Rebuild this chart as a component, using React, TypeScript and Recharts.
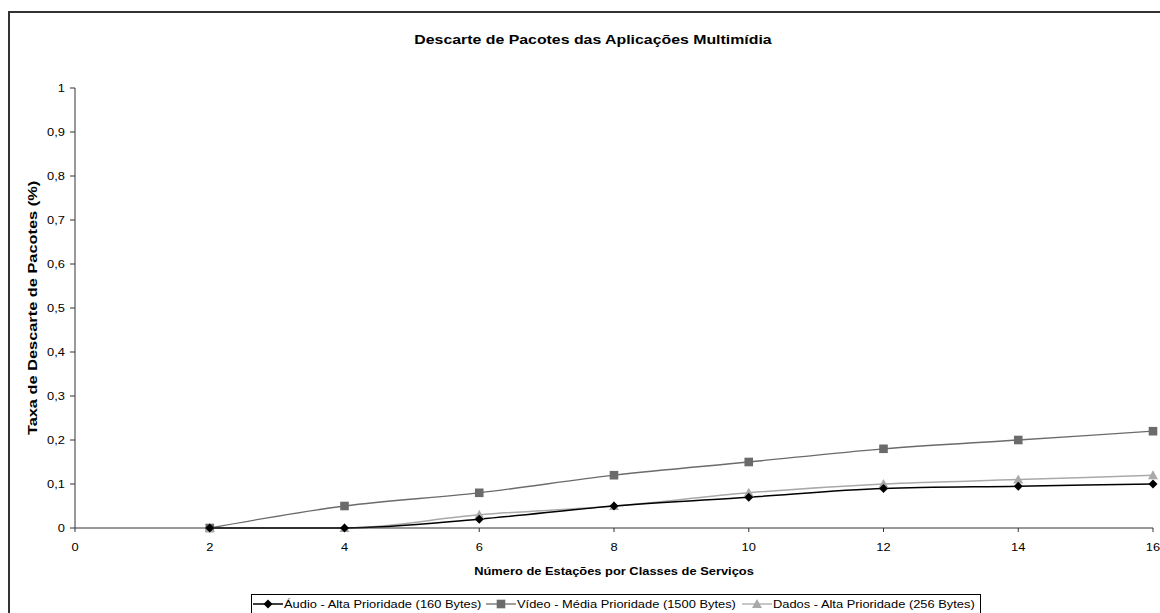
import { LineChart, Line, XAxis, YAxis, Legend } from "recharts";

const stations = [2, 4, 6, 8, 10, 12, 14, 16];
const audio = [0, 0, 0.02, 0.05, 0.07, 0.09, 0.095, 0.1];
const video = [0, 0.05, 0.08, 0.12, 0.15, 0.18, 0.2, 0.22];
const dados = [0, 0, 0.03, 0.05, 0.08, 0.1, 0.11, 0.12];

const xTicks = [0, 2, 4, 6, 8, 10, 12, 14, 16];
const yTicks = [0, 0.1, 0.2, 0.3, 0.4, 0.5, 0.6, 0.7, 0.8, 0.9, 1];

const seriesNames = [
  "Áudio - Alta Prioridade (160 Bytes)",
  "Vídeo - Média Prioridade (1500 Bytes)",
  "Dados - Alta Prioridade (256 Bytes)",
];

const data = stations.map((x, i) => ({
  x,
  audio: audio[i],
  video: video[i],
  dados: dados[i],
}));

const FONT = "'Liberation Sans', Arial, sans-serif";
const SX = 1.17; // the original text is drawn a little wide
const AUDIO_COLOR = "#000000";
const VIDEO_COLOR = "#6b6b6b";
const DADOS_COLOR = "#a9a9a9";

function Diamond({ cx, cy, color }: { cx: number; cy: number; color: string }) {
  const r = 4.5;
  return (
    <path
      d={`M${cx},${cy - r}L${cx + r},${cy}L${cx},${cy + r}L${cx - r},${cy}Z`}
      fill={color}
    />
  );
}

function Square({ cx, cy, color }: { cx: number; cy: number; color: string }) {
  const r = 4.3;
  return <rect x={cx - r} y={cy - r} width={r * 2} height={r * 2} fill={color} />;
}

function Triangle({ cx, cy, color }: { cx: number; cy: number; color: string }) {
  const r = 5;
  return (
    <path
      d={`M${cx},${cy - r}L${cx + r},${cy + r * 0.8}L${cx - r},${cy + r * 0.8}Z`}
      fill={color}
    />
  );
}

const fmt = (v: number) => String(Math.round(v * 10) / 10).replace(".", ",");

// wide text helper
function WText({
  x,
  y,
  children,
  anchor = "start",
  size = 11,
  bold = false,
  dy,
}: any) {
  return (
    <text
      transform={`translate(${x},${y}) scale(${SX},1)`}
      textAnchor={anchor}
      dy={dy}
      fontFamily={FONT}
      fontSize={size}
      fontWeight={bold ? "bold" : "normal"}
      fill="#000"
    >
      {children}
    </text>
  );
}

const XTick = (p: any) => (
  <WText x={p.x} y={p.y} anchor="middle" dy="0.71em">
    {p.payload.value}
  </WText>
);

const YTick = (p: any) => (
  <WText x={p.x} y={p.y} anchor="end" dy="0.355em">
    {fmt(p.payload.value)}
  </WText>
);

const legendItems = [
  { kind: "audio", color: AUDIO_COLOR, name: seriesNames[0], at: 2 },
  { kind: "video", color: VIDEO_COLOR, name: seriesNames[1], at: 235 },
  { kind: "dados", color: DADOS_COLOR, name: seriesNames[2], at: 491 },
];

function renderLegend() {
  return (
    <svg width={730} height={24} style={{ display: "block" }}>
      <rect x={0.5} y={0.5} width={729} height={30} fill="#fff" stroke="#000" />
      {legendItems.map((it) => (
        <g key={it.kind}>
          <line
            x1={it.at}
            y1={10}
            x2={it.at + 30}
            y2={10}
            stroke={it.color}
            strokeWidth={it.kind === "audio" ? 1.5 : 1.3}
          />
          {it.kind === "audio" && <Diamond cx={it.at + 15} cy={10} color={it.color} />}
          {it.kind === "video" && <Square cx={it.at + 15} cy={10} color={it.color} />}
          {it.kind === "dados" && <Triangle cx={it.at + 15} cy={10} color={it.color} />}
          <WText x={it.at + 31} y={14}>
            {it.name}
          </WText>
        </g>
      ))}
    </svg>
  );
}

export default function App() {
  return (
    <div
      style={{
        position: "fixed",
        left: 0,
        top: 0,
        width: 1160,
        height: 613,
        overflow: "hidden",
        background: "#fff",
      }}
    >
      <div
        style={{
          position: "absolute",
          left: 8,
          top: 11,
          width: 1200,
          height: 700,
          borderTop: "2px solid #333",
          borderLeft: "2px solid #333",
        }}
      >
        <div
          style={{
            position: "absolute",
            left: 583 - 300,
            top: 19,
            width: 600,
            textAlign: "center",
            fontFamily: FONT,
            fontWeight: "bold",
            fontSize: 13,
            color: "#000",
            transform: "scaleX(1.22)",
          }}
        >
          Descarte de Pacotes das Aplicações Multimídia
        </div>
        <LineChart
          width={1160}
          height={620}
          data={data}
          margin={{ top: 75, right: 17, bottom: 15, left: 0 }}
        >
          <XAxis
            dataKey="x"
            type="number"
            domain={[0, 16]}
            ticks={xTicks}
            interval={0}
            height={66}
            stroke="#333"
            tickSize={4}
            tickMargin={11}
            tick={<XTick />}
            label={{
              content: ({ viewBox }: any) => (
                <WText
                  x={viewBox.x + viewBox.width / 2}
                  y={viewBox.y + 47}
                  anchor="middle"
                  bold
                >
                  Número de Estações por Classes de Serviços
                </WText>
              ),
            }}
          />
          <YAxis
            type="number"
            domain={[0, 1]}
            ticks={yTicks}
            interval={0}
            width={65}
            stroke="#333"
            tickSize={5}
            tickMargin={5}
            tick={<YTick />}
            label={{
              content: ({ viewBox }: any) => {
                const x = viewBox.x + 27;
                const y = viewBox.y + viewBox.height / 2;
                return (
                  <text
                    transform={`translate(${x},${y}) rotate(-90) scale(1.26,1)`}
                    textAnchor="middle"
                    fontFamily={FONT}
                    fontSize={13}
                    fontWeight="bold"
                    fill="#000"
                  >
                    Taxa de Descarte de Pacotes (%)
                  </text>
                );
              },
            }}
          />
          <Legend
            verticalAlign="bottom"
            content={renderLegend}
            wrapperStyle={{ left: 241, width: 730 }}
          />
          <Line
            dataKey="video"
            name={seriesNames[1]}
            type="monotone"
            stroke={VIDEO_COLOR}
            strokeWidth={1.3}
            isAnimationActive={false}
            dot={(p: any) => <Square key={`v-${p.index}`} cx={p.cx} cy={p.cy} color={VIDEO_COLOR} />}
          />
          <Line
            dataKey="dados"
            name={seriesNames[2]}
            type="monotone"
            stroke={DADOS_COLOR}
            strokeWidth={1.5}
            isAnimationActive={false}
            dot={(p: any) => <Triangle key={`d-${p.index}`} cx={p.cx} cy={p.cy} color={DADOS_COLOR} />}
          />
          <Line
            dataKey="audio"
            name={seriesNames[0]}
            type="monotone"
            stroke={AUDIO_COLOR}
            strokeWidth={1.5}
            isAnimationActive={false}
            dot={(p: any) => <Diamond key={`a-${p.index}`} cx={p.cx} cy={p.cy} color={AUDIO_COLOR} />}
          />
        </LineChart>
      </div>
    </div>
  );
}
